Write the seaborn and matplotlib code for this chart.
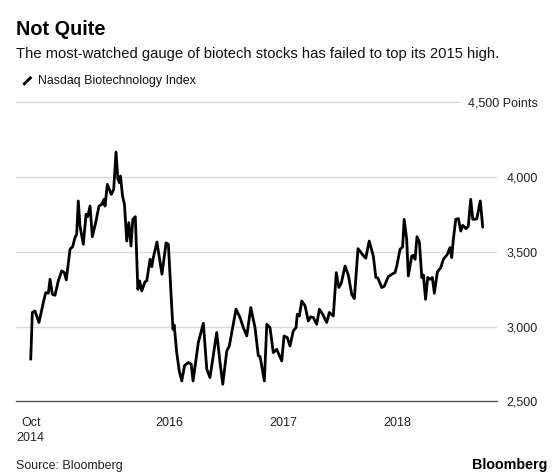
import matplotlib
matplotlib.use("Agg")
import matplotlib.pyplot as plt
from matplotlib.lines import Line2D
import seaborn as sns
import pandas as pd

# ---- data (decimal year, index points) ----
t = [2014.792, 2014.806, 2014.829, 2014.864, 2014.902, 2014.923, 2014.946, 2014.961,
     2014.981, 2015.004, 2015.033, 2015.063, 2015.086, 2015.103, 2015.136, 2015.159,
     2015.179, 2015.194, 2015.208, 2015.223, 2015.252, 2015.276, 2015.290, 2015.311,
     2015.331, 2015.360, 2015.389, 2015.413, 2015.433, 2015.442, 2015.462, 2015.497,
     2015.518, 2015.538, 2015.554, 2015.567, 2015.577, 2015.595, 2015.612, 2015.632,
     2015.650, 2015.669, 2015.685, 2015.707, 2015.729, 2015.745, 2015.763, 2015.792,
     2015.807, 2015.836, 2015.851, 2015.864, 2015.896, 2015.940, 2015.976, 2015.996,
     2016.036, 2016.047, 2016.069, 2016.092, 2016.113, 2016.138, 2016.171, 2016.196,
     2016.212, 2016.258, 2016.302, 2016.332, 2016.360, 2016.419, 2016.448, 2016.472,
     2016.507, 2016.529, 2016.588, 2016.623, 2016.652, 2016.682, 2016.717, 2016.754,
     2016.783, 2016.798, 2016.836, 2016.857, 2016.885, 2016.914, 2016.944, 2016.988,
     2017.008, 2017.037, 2017.060, 2017.089, 2017.113, 2017.124, 2017.142, 2017.163,
     2017.192, 2017.220, 2017.241, 2017.264, 2017.294, 2017.317, 2017.346, 2017.381,
     2017.404, 2017.439, 2017.465, 2017.487, 2017.508, 2017.542, 2017.570, 2017.600,
     2017.623, 2017.655, 2017.693, 2017.723, 2017.753, 2017.789, 2017.811, 2017.828,
     2017.863, 2017.885, 2017.920, 2017.950, 2017.979, 2017.994, 2018.023, 2018.045,
     2018.059, 2018.081, 2018.095, 2018.125, 2018.145, 2018.154, 2018.171, 2018.192,
     2018.213, 2018.227, 2018.246, 2018.265, 2018.285, 2018.305, 2018.323, 2018.349,
     2018.379, 2018.402, 2018.437, 2018.460, 2018.475, 2018.489, 2018.510, 2018.533,
     2018.554, 2018.571, 2018.600, 2018.620, 2018.641, 2018.659, 2018.694, 2018.725,
     2018.746]

nbi = [2781, 3094, 3104, 3027, 3160, 3227, 3223, 3316,
       3216, 3209, 3305, 3372, 3361, 3312, 3517, 3535,
       3595, 3617, 3840, 3672, 3550, 3751, 3735, 3806,
       3601, 3695, 3806, 3817, 3851, 3806, 3951, 3884,
       3918, 4167, 3990, 3963, 4007, 3873, 3817, 3572,
       3695, 3539, 3717, 3735, 3249, 3305, 3238, 3300,
       3305, 3450, 3400, 3461, 3565, 3350, 3560, 3550,
       2982, 3010, 2826, 2700, 2636, 2740, 2759, 2748,
       2636, 2893, 3022, 2715, 2659, 2960, 2759, 2614,
       2837, 2870, 3116, 3060, 2993, 2937, 3127, 2993,
       2804, 2800, 2636, 3015, 2993, 2826, 2848, 2770,
       2937, 2926, 2870, 2971, 2993, 3082, 3071, 3171,
       3138, 3037, 3065, 3060, 3015, 3116, 3082, 3027,
       3094, 3071, 3361, 3261, 3288, 3405, 3345, 3216,
       3187, 3521, 3483, 3457, 3572, 3472, 3328, 3325,
       3261, 3270, 3334, 3350, 3361, 3405, 3517, 3532,
       3717, 3583, 3338, 3472, 3476, 3450, 3601, 3565,
       3328, 3345, 3182, 3328, 3316, 3328, 3223, 3365,
       3394, 3450, 3483, 3528, 3461, 3583, 3717, 3722,
       3639, 3677, 3655, 3672, 3851, 3717, 3720, 3840,
       3665]

x_ticks = [2014.792, 2016, 2017, 2018]
x_tick_labels = ["Oct\n2014", "2016", "2017", "2018"]
y_ticks = [2500, 3000, 3500, 4000, 4500]
y_tick_labels = ["2,500", "3,000", "3,500", "4,000", "4,500 Points"]

title = "Not Quite"
subtitle = "The most-watched gauge of biotech stocks has failed to top its 2015 high."
series_name = "Nasdaq Biotechnology Index"
source = "Source: Bloomberg"

df = pd.DataFrame({"t": t, "value": nbi})

# ---- style ----
sns.set_style("white")
plt.rcParams["font.family"] = ["Liberation Sans", "DejaVu Sans"]

W, H = 560, 475
fig = plt.figure(figsize=(W / 100, H / 100), dpi=100)
fig.patch.set_facecolor("white")

left, right, bottom, top = 16.1, 497.0, 401.3, 102.3
ax = fig.add_axes([left / W, (H - bottom) / H, (right - left) / W, (bottom - top) / H])

sns.lineplot(data=df, x="t", y="value", ax=ax, color="black", linewidth=2.0,
             zorder=3, estimator=None, sort=False)

ax.set_xlim(2014.664, 2018.871)
ax.set_ylim(2500, 4500)

# gridlines
grid_c = "#d9d9d9"
for v in y_ticks[1:-1]:
    ax.axhline(v, color=grid_c, lw=1.0, zorder=1)
ax.axhline(y_ticks[-1], xmin=0, xmax=0.923, color=grid_c, lw=1.0, zorder=1, clip_on=False)

for s in ["top", "left", "right"]:
    ax.spines[s].set_visible(False)
ax.spines["bottom"].set_color("#555555")
ax.spines["bottom"].set_linewidth(1.0)

ax.set_xticks(x_ticks)
ax.set_xticklabels(x_tick_labels, fontsize=9, color="#222222", linespacing=1.25)
ax.tick_params(axis="x", length=4.5, width=1.0, color="#555555", pad=7.0, direction="out")

ax.yaxis.tick_right()
ax.set_yticks(y_ticks)
ax.set_yticklabels(y_tick_labels, fontsize=9, color="#222222")
ax.tick_params(axis="y", length=0, pad=29.5)
for lbl in ax.get_yticklabels():
    lbl.set_horizontalalignment("right")

ax.set_xlabel("")
ax.set_ylabel("")
if ax.get_legend():
    ax.get_legend().remove()

# ---- texts ----
fig.text(16 / W, 1 - 34.7 / H, title, fontsize=14.3, fontweight="bold", color="black",
         ha="left", va="baseline")
fig.text(16 / W, 1 - 58.3 / H, subtitle, fontsize=10.6, color="#111111",
         ha="left", va="baseline")
fig.add_artist(Line2D([23.3 / W, 31.4 / W], [1 - 84.8 / H, 1 - 76.9 / H],
                      transform=fig.transFigure, color="black", lw=2.0,
                      solid_capstyle="butt"))
fig.text(38.3 / W, 1 - 84.0 / H, series_name, fontsize=8.95, color="#111111",
         ha="left", va="baseline")
fig.text(16 / W, 1 - 469.4 / H, source, fontsize=9, color="#222222",
         ha="left", va="baseline")
fig.text(547.3 / W, 1 - 469.4 / H, "Bloomberg", fontsize=10.3, fontweight="bold",
         color="black", ha="right", va="baseline")

fig.savefig("out.png", dpi=100, facecolor="white")
